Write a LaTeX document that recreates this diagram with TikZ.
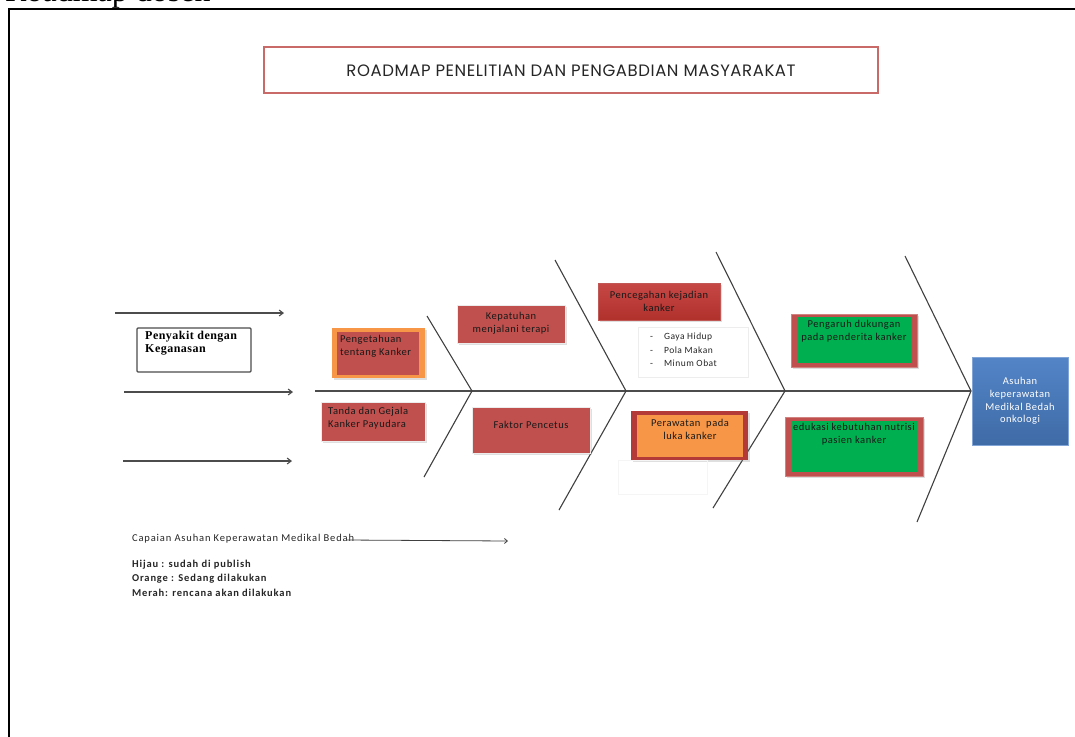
\documentclass[tikz,border=0pt]{standalone}
\usepackage{fontspec}
\setmainfont{Liberation Serif}
\newfontfamily\boxfont[LetterSpace=5]{Carlito}
\newfontfamily\legfont[LetterSpace=8]{Carlito}
\newfontfamily\titlefont[LetterSpace=3.5]{Poppins}
\newfontfamily\penyfont[LetterSpace=4]{Liberation Serif}
\usetikzlibrary{arrows.meta,shadows}
\definecolor{offred}{HTML}{C0504D}
\definecolor{darkred}{HTML}{B0302C}
\definecolor{offorange}{HTML}{F79646}
\definecolor{offgreen}{HTML}{00B050}
\definecolor{offblue}{HTML}{4A7EC4}
\definecolor{bonegray}{HTML}{404040}
\tikzset{
  x=1pt, y=-1pt,
  boxshadow/.style={drop shadow={opacity=0.25, shadow xshift=1.5pt, shadow yshift=-1.5pt, fill=gray}},
  plainred/.style={draw=white!85!gray, line width=0.8pt, fill=offred, boxshadow, inner sep=0pt},
  outerbox/.style={inner sep=0pt, boxshadow},
  innerbox/.style={inner sep=0pt},
  btxt/.style={font=\boxfont\fontsize{10.5}{13}\selectfont, text=black!90, align=center, inner sep=0pt},
  bone/.style={draw=bonegray, line width=1.1pt},
  leftarrow/.style={draw=black!70, line width=1.1pt, -{Straight Barb[length=4pt,width=6pt]}},
  legend/.style={font=\legfont\bfseries\fontsize{10.5}{12}\selectfont, anchor=west, inner sep=0pt, text=black!85}
}
\begin{document}
\begin{tikzpicture}
\useasboundingbox (0,0) rectangle (1075,736);
\fill[white] (0,0) rectangle (1075,736);

% header text cut off by page top, as in the reference
\node[anchor=base west, inner sep=0pt, font=\fontsize{32}{36}\selectfont] (head) at (5,1.5) {Roadmap dosen};

% outer frame
\draw[line width=2pt] (9,745) -- (9,9) -- (1090,9);

% title
\node[draw=offred!85, line width=2pt, fill=white, minimum width=614pt, minimum height=46pt, inner sep=0pt,
      drop shadow={opacity=0.2, shadow xshift=1pt, shadow yshift=-1pt}] (title) at (570.5,69.5) {};
\node[font=\titlefont\fontsize{16.5}{18}\selectfont, inner sep=0pt, text=black!85] (titletxt) at (571,71) {ROADMAP PENELITIAN DAN PENGABDIAN MASYARAKAT};

% left arrows
\coordinate (a1s) at (115,313); \coordinate (a1e) at (284,313);
\coordinate (a2s) at (124,392); \coordinate (a2e) at (293,392);
\coordinate (a3s) at (123,461); \coordinate (a3e) at (292,461);
\draw[leftarrow] (a1s) -- (a1e);
\draw[leftarrow] (a2s) -- (a2e);
\draw[leftarrow] (a3s) -- (a3e);

% Penyakit box
\node[draw=black!70, line width=1.3pt, rounded corners=1pt, minimum width=114pt, minimum height=44pt, inner sep=0pt] (peny) at (194,350) {};
\node[anchor=north west, inner sep=0pt, align=left, font=\penyfont\bfseries\fontsize{12}{13}\selectfont] (penytxt) at (145,331) {Penyakit dengan\\Keganasan};

% spine and bones
\coordinate (sp) at (315,391);
\coordinate (j1) at (472,391);
\coordinate (j2) at (626,391);
\coordinate (j3) at (785,391);
\coordinate (j4) at (971,391);
\coordinate (u1) at (427,316); \coordinate (l1) at (424,477);
\coordinate (u2) at (555,260); \coordinate (l2) at (559,510);
\coordinate (u3) at (716,252); \coordinate (l3) at (713,508);
\coordinate (u4) at (905,256); \coordinate (l4) at (917,522);
\draw[draw=black!70, line width=1.4pt] (sp) -- (j4);
\draw[bone] (u1) -- (j1) -- (l1);
\draw[bone] (u2) -- (j2) -- (l2);
\draw[bone] (u3) -- (j3) -- (l3);
\draw[bone] (u4) -- (j4) -- (l4);

% Pengetahuan (orange frame, red inside)
\node[outerbox, fill=offorange, minimum width=93pt, minimum height=50pt] (peng) at (378.5,353) {};
\node[innerbox, fill=offred, minimum width=82pt, minimum height=43pt] (pengin) at (378,353.5) {};
\node[btxt, anchor=north west, align=left] (pengtxt) at (340,335) {Pengetahuan\\tentang Kanker};

% Tanda dan Gejala
\node[plainred, minimum width=104pt, minimum height=39pt] (tanda) at (373,421.5) {};
\node[btxt, anchor=north west, align=left] (tandatxt) at (328,407) {Tanda dan Gejala\\Kanker Payudara};

% Kepatuhan
\node[plainred, minimum width=108pt, minimum height=38pt] (kep) at (511,324) {};
\node[btxt] (keptxt) at (511,323) {Kepatuhan\\menjalani terapi};

% Faktor Pencetus
\node[plainred, minimum width=118pt, minimum height=46pt] (fak) at (531,430) {};
\node[btxt] (faktxt) at (531,425) {Faktor Pencetus};

% Pencegahan
\node[inner sep=0pt, top color=offred!90!red, bottom color=darkred, draw=darkred!80, line width=0.6pt, boxshadow,
      minimum width=122pt, minimum height=37pt] (penc) at (659,301.5) {};
\node[btxt] (penctxt) at (659,301) {Pencegahan kejadian\\kanker};

% bullet list
\node[draw=black!7, line width=0.6pt, minimum width=110pt, minimum height=50pt, inner sep=0pt] (list) at (693,352) {};
\node[anchor=north west, inner sep=0pt, align=left, font=\boxfont\fontsize{9.5}{13.5}\selectfont, text=black!85] (listtxt) at (650,333)
  {-\hspace{11pt}Gaya Hidup\\-\hspace{11pt}Pola Makan\\-\hspace{11pt}Minum Obat};

% Perawatan
\node[outerbox, fill=darkred!95, minimum width=117pt, minimum height=49pt] (pera) at (689.5,435.5) {};
\node[innerbox, fill=offorange, minimum width=106pt, minimum height=42pt] (perain) at (690,436) {};
\node[btxt] (peratxt) at (690,429) {Perawatan\ \ pada\\luka kanker};
\node[draw=black!4, line width=0.5pt, minimum width=89pt, minimum height=34pt, inner sep=0pt] (faint) at (662.5,477) {};

% Pengaruh
\node[outerbox, fill=offred, draw=darkred!60, line width=0.4pt, minimum width=126pt, minimum height=53pt] (pgr) at (854,340.5) {};
\node[innerbox, fill=offgreen, minimum width=115pt, minimum height=46pt] (pgrin) at (854.5,340) {};
\node[btxt] (pgrtxt) at (854,331) {Pengaruh dukungan\\pada penderita kanker};

% edukasi
\node[outerbox, fill=offred, draw=darkred!60, line width=0.4pt, minimum width=138pt, minimum height=59pt] (edu) at (854,446.5) {};
\node[innerbox, fill=offgreen, minimum width=125pt, minimum height=51pt] (eduin) at (854.5,446.5) {};
\node[btxt] (edutxt) at (854,434.5) {edukasi kebutuhan nutrisi\\pasien kanker};

% blue head
\node[inner sep=0pt, top color=offblue!95!white, bottom color=offblue!85!black, draw=offblue!70!white, line width=0.6pt,
      minimum width=96pt, minimum height=88pt] (head2) at (1020,401) {};
\node[btxt, text=white, font=\boxfont\fontsize{10.5}{12.7}\selectfont] (headtxt) at (1020,401) {Asuhan\\keperawatan\\Medikal Bedah\\onkologi};

% legend
\node[legend, font=\legfont\fontsize{10.5}{12}\selectfont] (cap) at (132,539) {Capaian Asuhan Keperawatan Medikal Bedah};
\coordinate (caps) at (346,540);
\coordinate (cape) at (508,541);
\draw[draw=black!75, line width=0.8pt, -{Straight Barb[length=3pt,width=5pt]}] (caps) -- (cape);
\node[legend] (hijau) at (132,565) {Hijau : sudah di publish};
\node[legend] (orange) at (132,579) {Orange : Sedang dilakukan};
\node[legend] (merah) at (132,593) {Merah: rencana akan dilakukan};
\end{tikzpicture}
\end{document}
